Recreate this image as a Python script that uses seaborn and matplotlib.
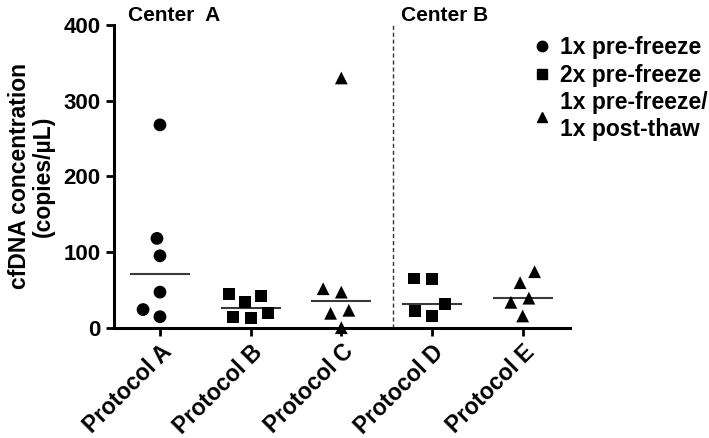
import numpy as np
import pandas as pd
import matplotlib
matplotlib.use("Agg")
import matplotlib.pyplot as plt
from matplotlib.lines import Line2D
import seaborn as sns

# ---- data ----
protocols = ["Protocol A", "Protocol B", "Protocol C", "Protocol D", "Protocol E"]
processing = ["1x pre-freeze", "2x pre-freeze", "1x pre-freeze/\n1x post-thaw"]
protocol_processing = ["1x pre-freeze", "2x pre-freeze", "1x pre-freeze/\n1x post-thaw",
                       "2x pre-freeze", "1x pre-freeze/\n1x post-thaw"]
vals_A = [268, 118, 95, 47, 24, 14.5]
vals_B = [44.5, 42, 34, 19, 13, 14.5]
vals_C = [330, 51.5, 47, 23, 19, 0]
vals_D = [65, 64, 31, 22, 15.5]
vals_E = [74, 59.5, 39, 33.5, 15.5]
centers = ["Center  A", "Center B"]
yticks = [0, 100, 200, 300, 400]

all_vals = [vals_A, vals_B, vals_C, vals_D, vals_E]
rows = []
for p, proc, vs in zip(protocols, protocol_processing, all_vals):
    for v in vs:
        rows.append({"protocol": p, "processing": proc, "value": v})
df = pd.DataFrame(rows)

sns.set_style("ticks")
plt.rcParams["font.family"] = ["Liberation Sans", "DejaVu Sans"]
plt.rcParams["font.weight"] = "bold"
plt.rcParams["axes.labelweight"] = "bold"
plt.rcParams["text.color"] = "black"
plt.rcParams["axes.labelcolor"] = "black"
plt.rcParams["xtick.color"] = "black"
plt.rcParams["ytick.color"] = "black"
plt.rcParams["xtick.labelcolor"] = "black"
plt.rcParams["ytick.labelcolor"] = "black"

fig = plt.figure(figsize=(7.09, 4.38), dpi=100)
ax = fig.add_axes([114/709, 1-327.7/438, (570-114)/709, (327.7-25)/438])

markers = {processing[0]: "o", processing[1]: "s", processing[2]: "^"}
msize = {processing[0]: 9.2, processing[1]: 8.6, processing[2]: 9.2}

# median lines
sns.boxplot(data=df, x="protocol", y="value", order=protocols,
            showbox=False, showcaps=False, showfliers=False,
            whiskerprops={"visible": False},
            medianprops={"color": "#3a3a3a", "linewidth": 1.5},
            width=0.66, ax=ax)

# invisible marker edge widens the swarm spacing like the reference
for proc in processing:
    sub = df[df["processing"] == proc]
    sns.swarmplot(data=sub, x="protocol", y="value", order=protocols,
                  marker=markers[proc], color="black", size=msize[proc],
                  linewidth=3.5, edgecolor="none", ax=ax)

for coll in ax.collections:
    if len(coll.get_offsets()) > 0:
        coll.set_clip_on(False)
        coll.set_zorder(3)

ax.set_xlim(-0.507, 4.522)
ax.set_ylim(0, 400)
ax.set_yticks(yticks)
ax.axvline(2.57, ymin=0, ymax=1, color="#333333", linestyle=(0, (3, 2)), linewidth=1.0)

sns.despine(ax=ax)
for s in ["left", "bottom"]:
    ax.spines[s].set_linewidth(2.2)
    ax.spines[s].set_color("black")
ax.tick_params(axis="both", width=2.0, length=6, color="black", labelcolor="black")
ax.tick_params(axis="y", labelsize=16, pad=3.5)
ax.tick_params(axis="x", labelsize=16.5, pad=3)
for lab in ax.get_yticklabels():
    lab.set_fontweight("bold")
for lab in ax.get_xticklabels():
    lab.set_fontweight("bold")
    lab.set_rotation(45)
    lab.set_ha("right")
    lab.set_rotation_mode("anchor")

ax.set_xlabel("")
ax.set_ylabel("cfDNA concentration\n(copies/µL)", fontsize=16.5, fontweight="bold",
              labelpad=6, linespacing=1.1, color="black")

ax.text(-0.35, 1.0, centers[0], transform=ax.get_xaxis_transform(),
        fontsize=15, fontweight="bold", ha="left", va="bottom", color="black")
ax.text(2.66, 1.0, centers[1], transform=ax.get_xaxis_transform(),
        fontsize=15, fontweight="bold", ha="left", va="bottom", color="black")

handles = [Line2D([], [], marker=markers[p], color="black", linestyle="none",
                  markersize=7.5) for p in processing]
fig.legend(handles, processing, loc="upper left",
           bbox_to_anchor=(533/709, 1-36/438), frameon=False,
           prop={"size": 16.5, "weight": "bold"}, handlelength=0.8,
           handletextpad=0.4, labelspacing=0.2, borderpad=0, borderaxespad=0)

fig.savefig("out.png", dpi=100)
